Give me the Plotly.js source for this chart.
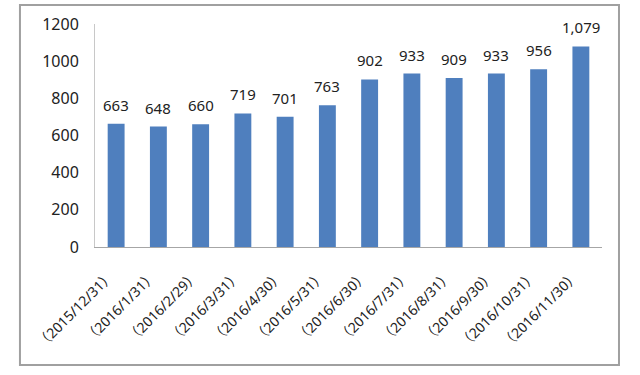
<!DOCTYPE html>
<html>
<head>
<meta charset="utf-8">
<script src="https://cdn.plot.ly/plotly-3.0.1.min.js"></script>
<style>html,body{margin:0;padding:0;background:#fff;}#chart{width:640px;height:375px;}</style>
</head>
<body>
<div id="chart"></div>
<script>
var categories = ["（2015/12/31）","（2016/1/31）","（2016/2/29）","（2016/3/31）","（2016/4/30）","（2016/5/31）","（2016/6/30）","（2016/7/31）","（2016/8/31）","（2016/9/30）","（2016/10/31）","（2016/11/30）"];
var values = [663, 648, 660, 719, 701, 763, 902, 933, 909, 933, 956, 1079];
var valueLabels = ["663","648","660","719","701","763","902","933","909","933","956","1,079"];
var yTicks = [0, 200, 400, 600, 800, 1000, 1200];

var fontFam = "'Noto Sans', 'Noto Sans CJK SC', sans-serif";
var trace = {
  type: 'bar',
  x: categories,
  y: values,
  marker: {color: '#4F7FBE'},
  width: 0.4,
  hoverinfo: 'none'
};
var annotations = categories.map(function (c, i) {
  return {
    x: c, y: values[i], xref: 'x', yref: 'y',
    text: valueLabels[i], showarrow: false,
    yanchor: 'bottom', yshift: 7,
    font: {family: fontFam, size: 15, color: '#222'}
  };
});
var layout = {
  width: 640, height: 375,
  margin: {l: 95, r: 38, t: 24, b: 128},
  paper_bgcolor: '#fff', plot_bgcolor: '#fff',
  showlegend: false,
  font: {family: fontFam, color: '#222'},
  xaxis: {
    type: 'category',
    tickangle: -45,
    tickfont: {family: fontFam, size: 14, color: '#222'},
    showline: true, linecolor: '#a6a6a6', linewidth: 1,
    showgrid: false, ticks: '', ticklen: 0,
    ticklabelshift: -6, ticklabelstandoff: 14
  },
  yaxis: {
    range: [0, 1200],
    tickvals: yTicks,
    ticktext: yTicks.map(String),
    tickfont: {family: fontFam, size: 16, color: '#222'},
    showline: true, linecolor: '#c8c8c8', linewidth: 1,
    showgrid: false, zeroline: false, ticks: '',
    ticklabelstandoff: 12
  },
  annotations: annotations,
  shapes: [{
    type: 'rect', xref: 'paper', yref: 'paper',
    x0: -0.148, x1: 1.0335, y0: -0.529, y1: 1.085,
    line: {color: '#a0a0a0', width: 2}
  }]
};
Plotly.newPlot('chart', [trace], layout, {staticPlot: true, displayModeBar: false});
</script>
</body>
</html>
